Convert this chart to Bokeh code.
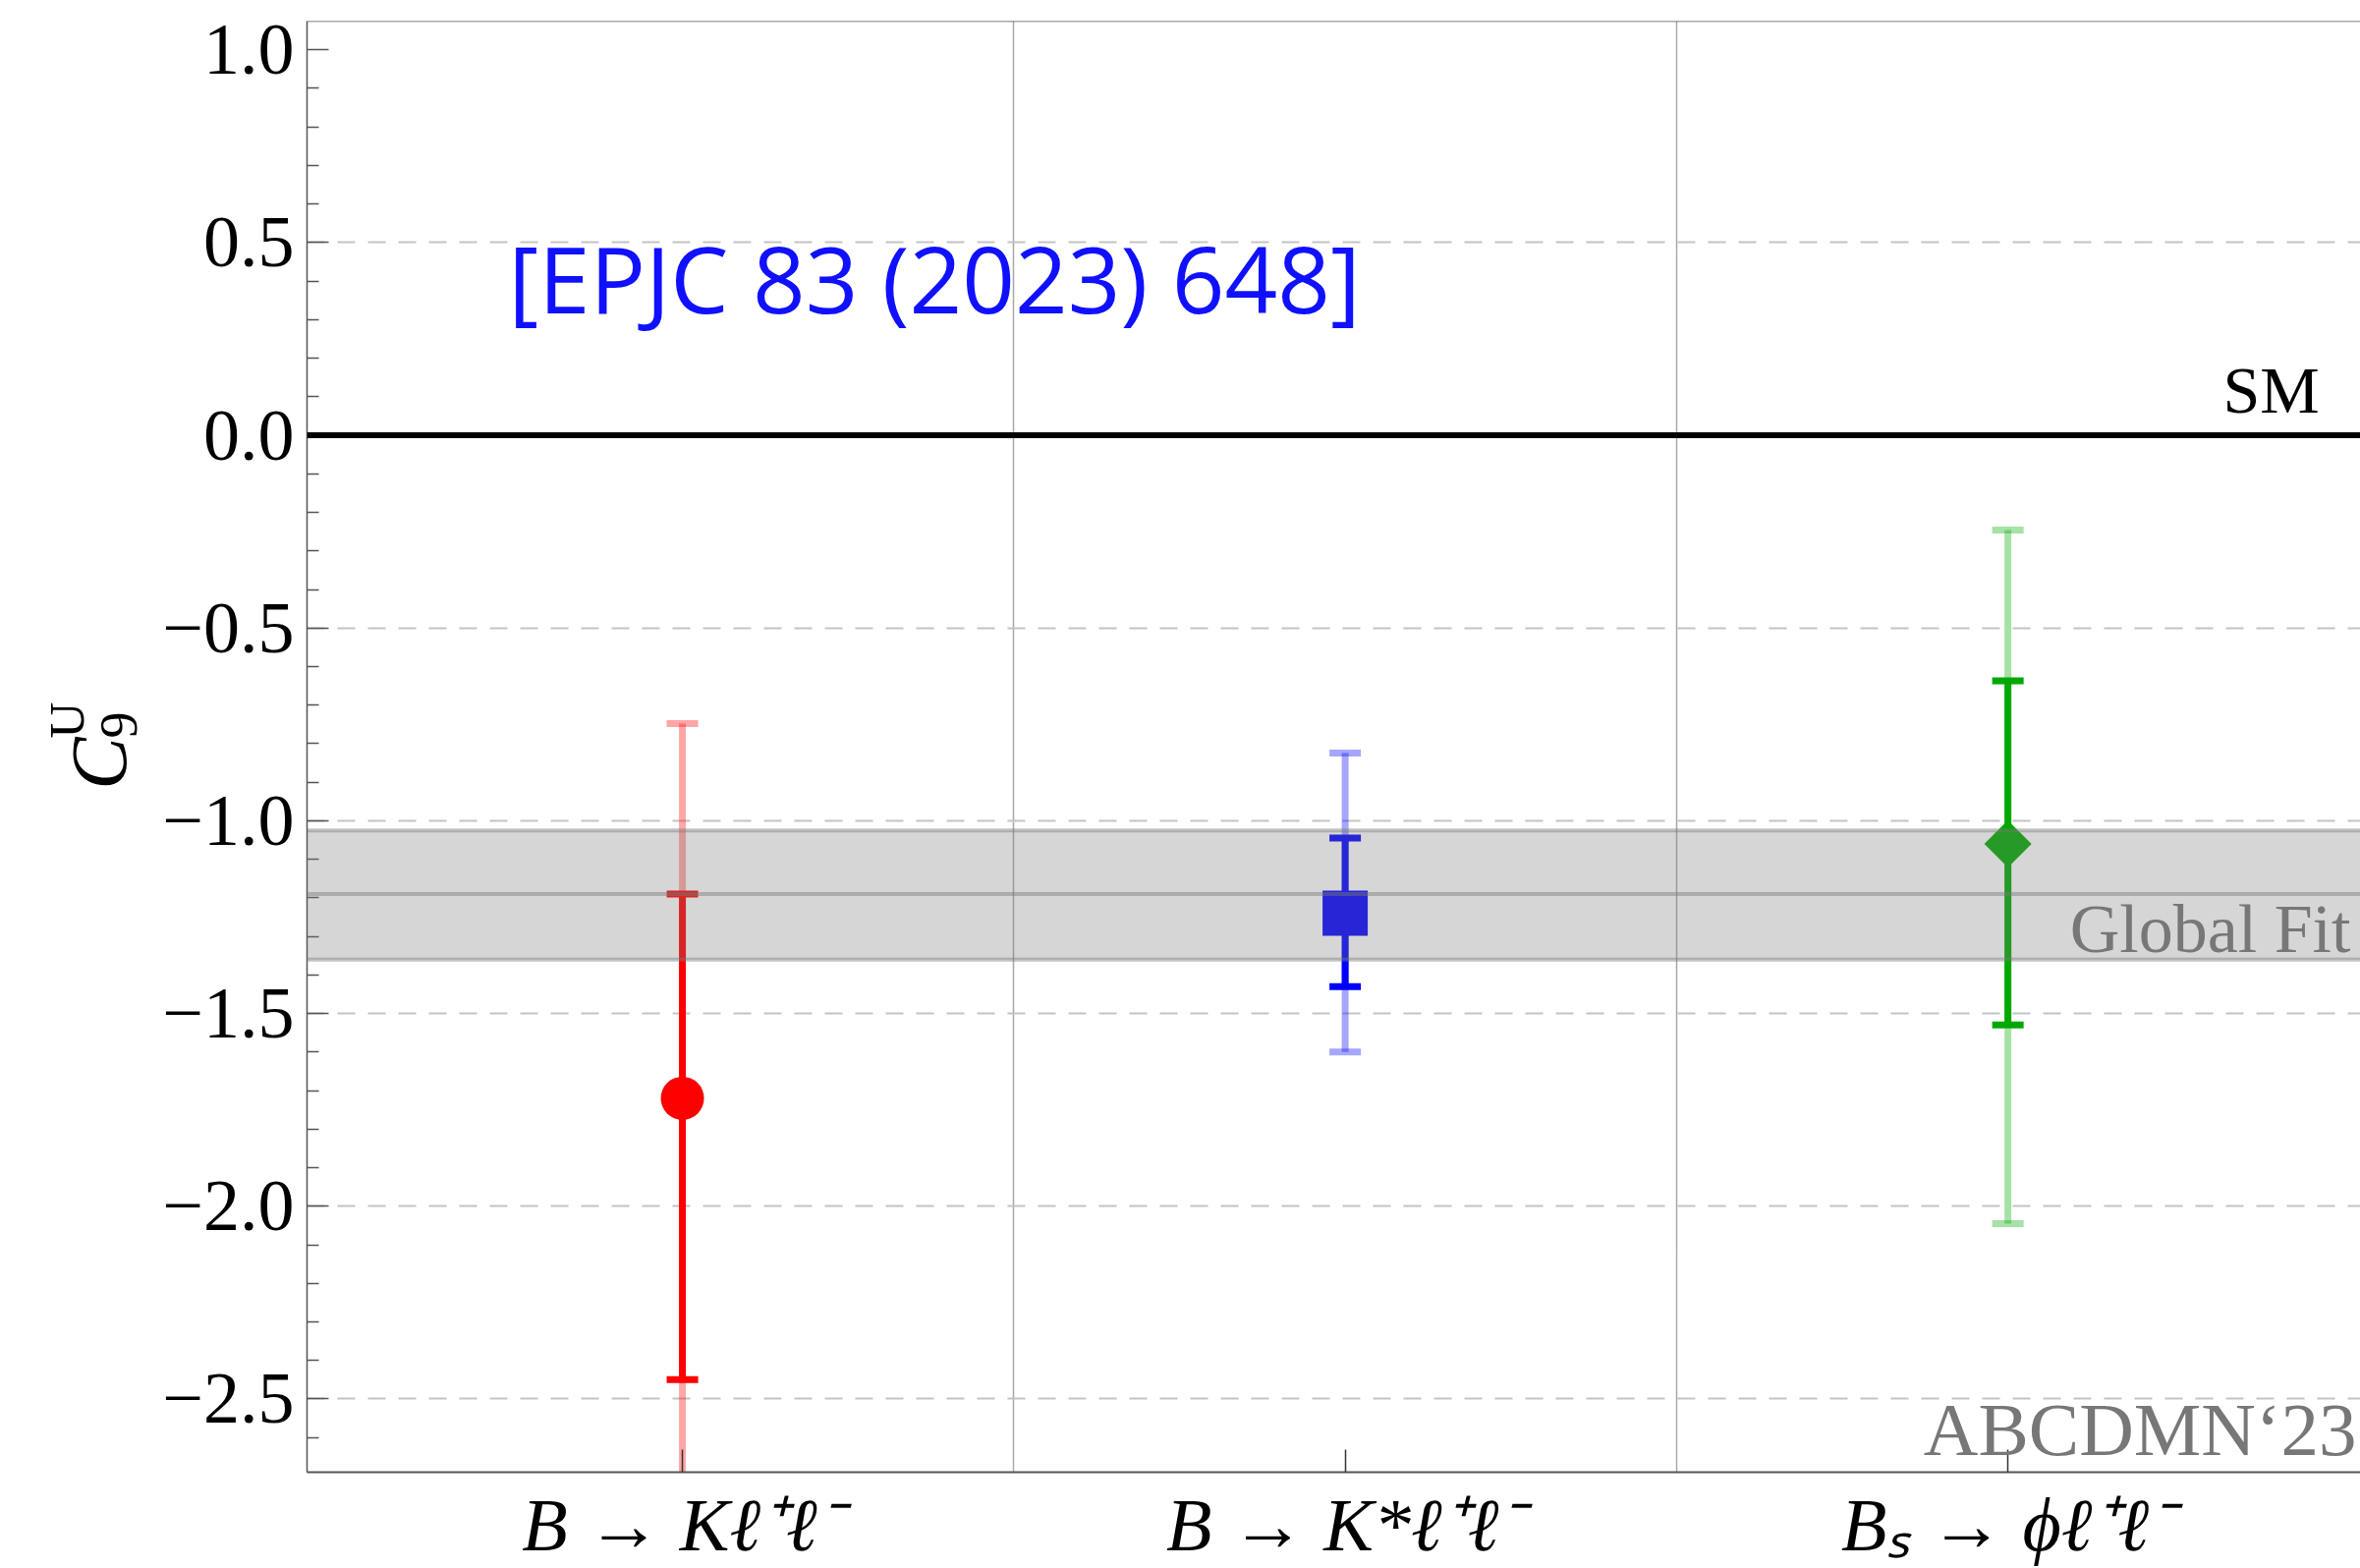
from bokeh.plotting import figure
from bokeh.layouts import row
from bokeh.models import (Range1d, FixedTicker, Label, Span, BoxAnnotation, ColumnDataSource)
from bokeh.core.properties import value
from bokeh.embed import file_html
from bokeh.resources import INLINE

# ---------------- data ----------------
categories = ["B → Kℓ⁺ℓ⁻", "B → K*ℓ⁺ℓ⁻", "Bₛ → ϕℓ⁺ℓ⁻"]
cat_pos = [1, 2, 3]
central = [-1.72, -1.24, -1.06]
sig1_lo = [-2.45, -1.43, -1.53]
sig1_hi = [-1.19, -1.045, -0.637]
sig2_lo = [-3.10, -1.60, -2.045]
sig2_hi = [-0.748, -0.824, -0.246]

global_fit = -1.19
global_lo = -1.36
global_hi = -1.025
sm_value = 0.0

y_ticks = [1.0, 0.5, 0.0, -0.5, -1.0, -1.5, -2.0, -2.5]
y_tick_labels = ["1.0", "0.5", "0.0", "−0.5", "−1.0", "−1.5", "−2.0", "−2.5"]
y_minor = [0.9, 0.8, 0.7, 0.6, 0.4, 0.3, 0.2, 0.1, -0.1, -0.2, -0.3, -0.4,
           -0.6, -0.7, -0.8, -0.9, -1.1, -1.2, -1.3, -1.4, -1.6, -1.7, -1.8,
           -1.9, -2.1, -2.2, -2.3, -2.4, -2.6]
grid_lines = [0.5, 0.0, -0.5, -1.0, -1.5, -2.0, -2.5]
separators = [1.5, 2.5]

# ---------------- styles ----------------
colors = ["#ff0000", "#0000ff", "#00a800"]
marker_types = ["circle", "square", "square"]
marker_angles = [0.0, 0.0, 0.7854]
marker_sizes = [44, 46, 34]
SERIF = "Liberation Serif"

W, H = 2402, 1596
LW = 158  # width of the strip holding the y-axis title
BT, BB = 21, 96  # top / bottom borders (same for both parts)

x_start, x_end = 0.4336, 3.532
y_start, y_end = -2.69, 1.0745
yr = Range1d(y_start, y_end)

# ---------- strip with the y-axis title  C_9^U ----------
t = figure(width=LW, height=H, x_range=Range1d(0, LW), y_range=yr,
           output_backend="svg", toolbar_location=None,
           x_axis_location=None, y_axis_location=None,
           min_border_left=0, min_border_right=0, min_border_top=BT, min_border_bottom=BB)
t.outline_line_color = None
t.xgrid.visible = False
t.ygrid.visible = False
t.background_fill_color = "white"
t.border_fill_color = "white"
t.text(x=[100], y=[-0.919], text=["C"], angle=1.5708, text_align="left",
       text_baseline="alphabetic", text_font=value(SERIF), text_font_style="italic",
       text_font_size="80px", text_color="black")
t.text(x=[120], y=[-0.786], text=["9"], angle=1.5708, text_align="left",
       text_baseline="alphabetic", text_font=value(SERIF),
       text_font_size="54px", text_color="black")
t.text(x=[67], y=[-0.786], text=["U"], angle=1.5708, text_align="left",
       text_baseline="alphabetic", text_font=value(SERIF),
       text_font_size="51px", text_color="black")

# ---------- main plot ----------
p = figure(width=W - LW, height=H,
           x_range=Range1d(x_start, x_end), y_range=yr,
           output_backend="svg", toolbar_location=None,
           min_border_left=312 - LW, min_border_right=0, min_border_top=BT,
           min_border_bottom=BB)
p.outline_line_color = None
p.background_fill_color = "white"
p.border_fill_color = "white"

# grids
p.ygrid.ticker = FixedTicker(ticks=grid_lines)
p.ygrid.grid_line_color = "#c4c4c4"
p.ygrid.grid_line_width = 2
p.ygrid.grid_line_dash = "18 13"
p.xgrid.ticker = FixedTicker(ticks=separators)
p.xgrid.grid_line_color = "#a8a8a8"
p.xgrid.grid_line_width = 1.5

# axes
yax = p.yaxis[0]
yax.ticker = FixedTicker(ticks=y_ticks, minor_ticks=y_minor)
yax.major_label_overrides = {tk: l for tk, l in zip(y_ticks, y_tick_labels)}
yax.major_tick_in = 22
yax.major_tick_out = 0
yax.minor_tick_in = 12
yax.minor_tick_out = 0
yax.major_tick_line_color = "#555555"
yax.minor_tick_line_color = "#555555"
yax.major_tick_line_width = 1.5
yax.minor_tick_line_width = 1.5
yax.axis_line_color = "#555555"
yax.axis_line_width = 1.5
yax.major_label_text_font = SERIF
yax.major_label_text_font_size = "74px"
yax.major_label_text_color = "black"
yax.major_label_standoff = 13

xax = p.xaxis[0]
xax.ticker = FixedTicker(ticks=cat_pos)
xax.major_label_overrides = {c: l for c, l in zip(cat_pos, categories)}
xax.major_tick_in = 23
xax.major_tick_out = 0
xax.minor_tick_line_color = None
xax.major_tick_line_color = "#333333"
xax.major_tick_line_width = 1.5
xax.axis_line_color = "#555555"
xax.axis_line_width = 2
xax.major_label_text_font = SERIF
xax.major_label_text_font_style = "italic"
xax.major_label_text_font_size = "76px"
xax.major_label_text_color = "black"
xax.major_label_standoff = 11

# top frame line
p.add_layout(Span(location=y_end, dimension="width", line_color="#555555", line_width=1.5))

# SM line
p.add_layout(Span(location=sm_value, dimension="width", line_color="black", line_width=6))

# error bars
src = ColumnDataSource(dict(x=cat_pos, c=central, lo1=sig1_lo, hi1=sig1_hi,
                            lo2=sig2_lo, hi2=sig2_hi, color=colors,
                            marker=marker_types, angle=marker_angles, size=marker_sizes))
p.segment(x0="x", y0="lo2", x1="x", y1="hi2", line_color="color", line_alpha=0.35,
          line_width=7, source=src)
for key in ("lo2", "hi2"):
    p.scatter(x="x", y=key, marker="dash", size=32, line_width=7, line_color="color",
              line_alpha=0.35, source=src)
p.segment(x0="x", y0="lo1", x1="x", y1="hi1", line_color="color", line_width=7, source=src)
for key in ("lo1", "hi1"):
    p.scatter(x="x", y=key, marker="dash", size=32, line_width=7, line_color="color",
              source=src)
p.scatter(x="x", y="c", marker="marker", angle="angle", size="size", fill_color="color",
          line_color=None, source=src)

# global fit band (drawn over the points)
p.add_layout(BoxAnnotation(bottom=global_lo, top=global_hi, fill_color="#7b7b7b",
                           fill_alpha=0.31, line_color=None))
for v in (global_lo, global_fit, global_hi):
    p.add_layout(Span(location=v, dimension="width", line_color="#7b7b7b",
                      line_alpha=0.45, line_width=4))

# texts
p.add_layout(Label(x=3.470, y=0.020, text="SM", text_align="right",
                   text_font=SERIF, text_font_size="68px", text_color="black"))
p.add_layout(Label(x=x_end, y=-1.379, x_offset=-10, text="Global Fit", text_align="right",
                   text_font=SERIF, text_font_size="70px", text_color="#777777"))
p.add_layout(Label(x=x_end, y=-2.688, x_offset=-4, text="ABCDMN‘23", text_align="right",
                   text_font=SERIF, text_font_size="77px", text_color="#777777"))
p.add_layout(Label(x=0.7375, y=0.245, text="[EPJC 83 (2023) 648]", text_align="left",
                   text_font="Open Sans", text_font_size="94px", text_color="#1010ff"))

layout = row(t, p, spacing=0)
open("out.html", "w").write(file_html(layout, INLINE))
